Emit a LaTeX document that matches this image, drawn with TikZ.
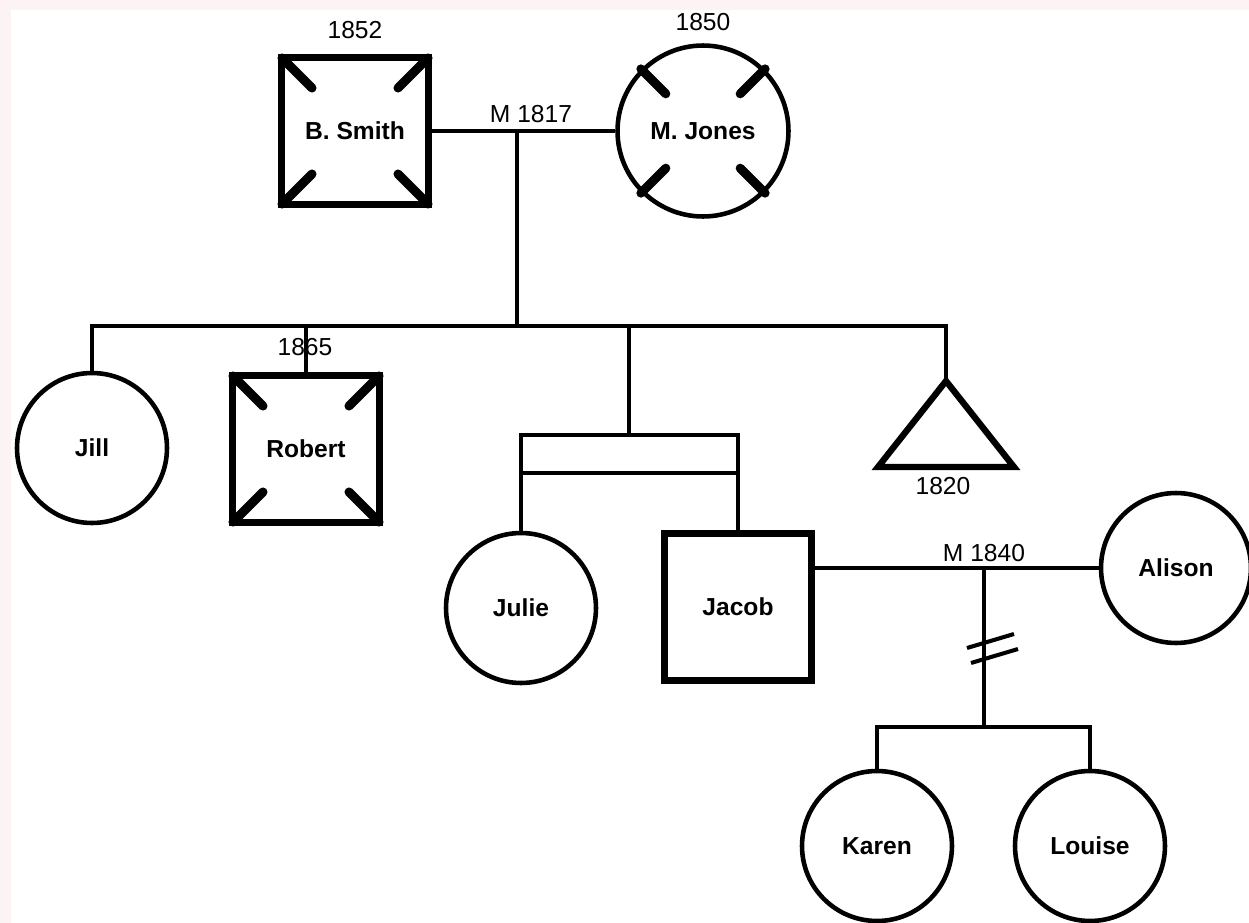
\documentclass[tikz,border=0pt]{standalone}
\usepackage{fontspec}
\setmainfont{Liberation Sans}
\usepackage{tikz}
\usetikzlibrary{calc}
\definecolor{pgPaper}{RGB}{251,243,244}

\begin{document}
\begin{tikzpicture}[
    x=0.02cm, y=-0.02cm,
    link/.style={line width=1.9pt},
    male/.style={draw, line width=3.8pt, minimum size=2.94cm, inner sep=0pt,
                 font=\fontsize{14}{16}\selectfont\bfseries},
    female/.style={circle, draw, line width=2.6pt, minimum size=3.0cm, inner sep=0pt,
                   font=\fontsize{14}{16}\selectfont\bfseries},
    dead/.style={line width=5.2pt, line cap=round},
    year/.style={font=\fontsize{14}{16}\selectfont, inner sep=1pt}
  ]
  \useasboundingbox (0,0) rectangle (1249,923);
  \fill[pgPaper] (0,0) rectangle (1249,923);
  \fill[white] (11,10) rectangle (1249,923);

  % parents
  \node[male] (smith) at (355,131) {B. Smith};
  \node[female, minimum size=3.42cm] (jones) at (703,131) {M. Jones};
  \coordinate (m1) at (517,131);
  \coordinate (sib) at (517,326);
  \draw[link] (smith) -- (jones);
  \draw[link] (m1) -- (sib);

  % children
  \node[female] (jill) at (92,448) {Jill};
  \node[male] (robert) at (306,449) {Robert};
  \coordinate (tri) at (946,381);
  \draw[line width=3.6pt, line join=miter] (tri) -- (878,467) -- (1014,467) -- cycle;
  \draw[link] (jill.north) -- (jill.north |- sib) -- (tri |- sib) -- (tri);
  \draw[link] (robert.north) -- (robert.north |- sib);

  % twins
  \coordinate (twin) at (629,435);
  \coordinate (twinbar) at (629,473);
  \node[female] (julie) at (521,608) {Julie};
  \node[male] (jacob) at (738,607) {Jacob};
  \draw[link] (sib -| twin) -- (twin);
  \draw[link] (julie.north) -- (julie.north |- twin) -- (jacob.north |- twin) -- (jacob.north);
  \draw[link] (julie.north |- twinbar) -- (jacob.north |- twinbar);

  % Jacob + Alison
  \node[female] (alison) at (1176,568) {Alison};
  \coordinate (m2) at (984,568);
  \coordinate (kids) at (984,727);
  \draw[link] (jacob.east |- alison) -- (alison.west);
  \draw[link] (m2) -- (kids);
  \foreach \sx/\sy in {-17/80, -13/95} {
    \draw[line width=2.3pt] ($(m2)+(\sx,\sy)$) -- ++(47,-14);
  }
  \node[female] (karen) at (877,846) {Karen};
  \node[female] (louise) at (1090,846) {Louise};
  \draw[link] (karen.north) -- (karen.north |- kids) -- (louise.north |- kids) -- (louise.north);

  % deceased marks
  \foreach \n in {smith, robert} {
    \foreach \c in {north west, north east, south west, south east} {
      \draw[dead] ($(\n.\c)!0.05!(\n.center)$) -- ($(\n.\c)!0.44!(\n.center)$);
    }
  }
  \foreach \a in {45, 135, 225, 315} {
    \draw[dead] (jones.\a) -- ($(jones.center)!0.6!(jones.\a)$);
  }

  % years
  \node[year] (smithyr) at (355,30) {1852};
  \node[year] (jonesyr) at (703,22) {1850};
  \node[year] (m1yr) at (531,114) {M 1817};
  \node[year] (robertyr) at (305,347) {1865};
  \node[year] (triyr) at (943,486) {1820};
  \node[year] (m2yr) at (984,553) {M 1840};
\end{tikzpicture}
\end{document}
